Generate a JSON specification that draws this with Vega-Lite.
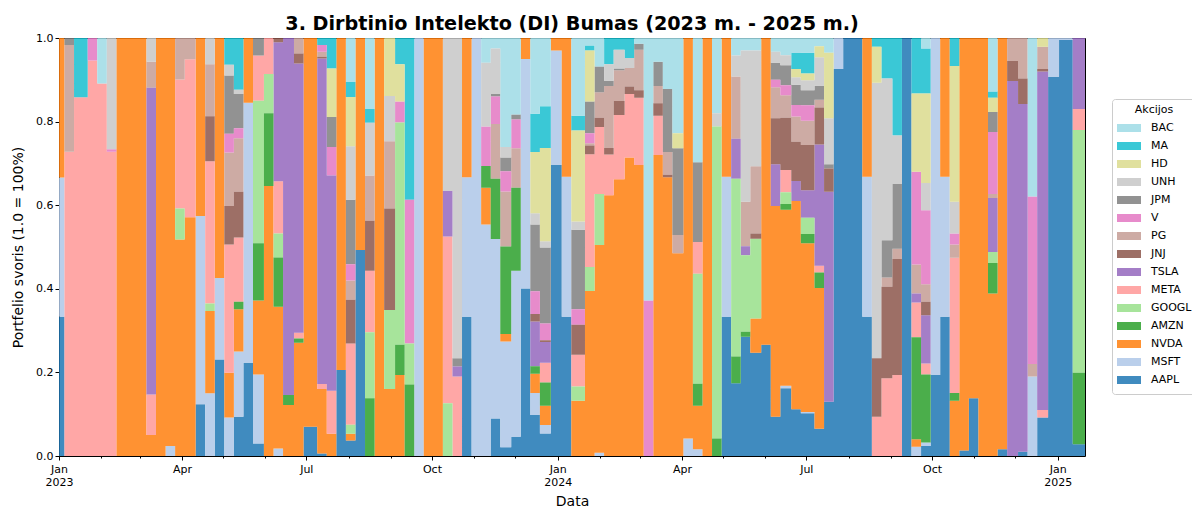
{"$schema":"https://vega.github.io/schema/vega-lite/v6.json","autosize":{"type":"none"},"padding":{"left":59,"top":38,"right":107,"bottom":51},"width":1026,"height":418,"background":"white","title":{"text":"3. Dirbtinio Intelekto (DI) Bumas (2023 m. - 2025 m.)","font":"DejaVu Sans","fontSize":19.2,"fontWeight":"bold","color":"black","anchor":"middle","offset":-2},"config":{"font":"DejaVu Sans","view":{"stroke":"black","strokeWidth":1}},"data":{"format":{"parse":{"d":"date"}},"values":[
{"d":"2023-01-01","AAPL":0.333,"MSFT":0.333,"NVDA":0.334},
{"d":"2023-01-05","META":0.728,"PG":0.255,"JPM":0.017},
{"d":"2023-01-12","META":0.858,"MA":0.142},
{"d":"2023-01-22","META":0.946,"V":0.054},
{"d":"2023-01-29","META":0.891,"BAC":0.109},
{"d":"2023-02-05","META":0.728,"V":0.006,"UNH":0.266},
{"d":"2023-02-12","NVDA":1},
{"d":"2023-02-20","NVDA":1},
{"d":"2023-02-27","NVDA":1},
{"d":"2023-03-06","NVDA":0.05,"META":0.097,"TSLA":0.734,"PG":0.062,"UNH":0.057},
{"d":"2023-03-13","NVDA":1},
{"d":"2023-03-20","MSFT":0.024,"NVDA":0.976},
{"d":"2023-03-27","NVDA":0.518,"GOOGL":0.074,"META":0.309,"PG":0.099},
{"d":"2023-04-03","NVDA":0.571,"META":0.378,"PG":0.051},
{"d":"2023-04-11","AAPL":0.124,"MSFT":0.45,"NVDA":0.426},
{"d":"2023-04-18","MSFT":0.15,"NVDA":0.197,"GOOGL":0.018,"META":0.34,"JNJ":0.108,"PG":0.124,"UNH":0.063},
{"d":"2023-04-25","AAPL":0.231,"MSFT":0.195,"NVDA":0.574},
{"d":"2023-05-02","MSFT":0.092,"NVDA":0.107,"META":0.307,"JNJ":0.092,"PG":0.128,"V":0.045,"JPM":0.139,"UNH":0.026,"MA":0.064},
{"d":"2023-05-09","AAPL":0.094,"MSFT":0.156,"NVDA":0.101,"AMZN":0.018,"META":0.154,"JNJ":0.109,"PG":0.128,"V":0.024,"JPM":0.082,"UNH":0.01,"MA":0.124},
{"d":"2023-05-16","AAPL":0.223,"MSFT":0.622,"NVDA":0.155},
{"d":"2023-05-23","AAPL":0.03,"MSFT":0.165,"NVDA":0.177,"AMZN":0.137,"GOOGL":0.341,"META":0.108,"JPM":0.042},
{"d":"2023-05-31","NVDA":0.646,"AMZN":0.174,"GOOGL":0.094,"META":0.086},
{"d":"2023-06-07","MSFT":0.018,"NVDA":0.339,"AMZN":0.118,"GOOGL":0.057,"META":0.125,"TSLA":0.333,"JNJ":0.01},
{"d":"2023-06-14","NVDA":0.122,"AMZN":0.024,"TSLA":0.854},
{"d":"2023-06-22","NVDA":0.271,"AMZN":0.01,"META":0.014,"TSLA":0.644,"JNJ":0.024,"PG":0.037},
{"d":"2023-06-29","AAPL":0.07,"NVDA":0.93},
{"d":"2023-07-09","AAPL":0.006,"NVDA":0.154,"META":0.012,"TSLA":0.779,"JNJ":0.004,"PG":0.012,"V":0.016,"MA":0.017},
{"d":"2023-07-16","NVDA":0.053,"META":0.103,"TSLA":0.515,"V":0.068,"JPM":0.072,"HD":0.116,"MA":0.073},
{"d":"2023-07-23","AAPL":0.206,"NVDA":0.794},
{"d":"2023-07-30","AAPL":0.037,"NVDA":0.016,"GOOGL":0.022,"META":0.194,"JNJ":0.105,"PG":0.046,"V":0.039,"JPM":0.154,"UNH":0.128,"HD":0.118,"MA":0.036,"BAC":0.105},
{"d":"2023-08-06","AAPL":0.493,"NVDA":0.507},
{"d":"2023-08-13","AMZN":0.138,"GOOGL":0.158,"META":0.147,"JNJ":0.12,"PG":0.108,"UNH":0.126,"MA":0.033,"BAC":0.17},
{"d":"2023-08-20","NVDA":1},
{"d":"2023-08-27","NVDA":0.16,"GOOGL":0.189,"JNJ":0.243,"PG":0.161,"UNH":0.108,"HD":0.139},
{"d":"2023-09-04","NVDA":0.194,"AMZN":0.072,"GOOGL":0.532,"V":0.05,"HD":0.089,"MA":0.063},
{"d":"2023-09-11","AMZN":0.171,"GOOGL":0.098,"V":0.344,"MA":0.387},
{"d":"2023-09-18","MSFT":1},
{"d":"2023-09-25","NVDA":1},
{"d":"2023-10-02","NVDA":1},
{"d":"2023-10-09","GOOGL":0.126,"META":0.399,"TSLA":0.109,"UNH":0.366},
{"d":"2023-10-16","META":0.19,"TSLA":0.024,"JPM":0.02,"UNH":0.766},
{"d":"2023-10-23","AAPL":0.333,"MSFT":0.334,"NVDA":0.333},
{"d":"2023-10-30","MSFT":1},
{"d":"2023-11-06","MSFT":0.554,"NVDA":0.088,"AMZN":0.052,"V":0.094,"UNH":0.153,"BAC":0.059},
{"d":"2023-11-13","AAPL":0.09,"MSFT":0.429,"AMZN":0.144,"PG":0.131,"V":0.066,"JPM":0.006,"UNH":0.109,"BAC":0.025},
{"d":"2023-11-20","AAPL":0.021,"MSFT":0.253,"NVDA":0.018,"AMZN":0.209,"PG":0.132,"V":0.048,"JPM":0.033,"UNH":0.025,"BAC":0.261},
{"d":"2023-11-28","AAPL":0.046,"MSFT":0.397,"AMZN":0.199,"PG":0.094,"V":0.069,"JPM":0.012,"BAC":0.183},
{"d":"2023-12-05","AAPL":0.401,"MSFT":0.549,"NVDA":0.05},
{"d":"2023-12-12","AAPL":0.098,"MSFT":0.053,"NVDA":0.046,"AMZN":0.018,"TSLA":0.107,"JNJ":0.018,"V":0.054,"JPM":0.16,"UNH":0.027,"HD":0.146,"MA":0.092,"BAC":0.181},
{"d":"2023-12-19","AAPL":0.054,"MSFT":0.02,"NVDA":0.046,"AMZN":0.056,"META":0.047,"TSLA":0.05,"JNJ":0.004,"V":0.04,"JPM":0.182,"UNH":0.015,"HD":0.223,"MA":0.1,"BAC":0.163},
{"d":"2023-12-27","AAPL":0.696,"MSFT":0.274,"NVDA":0.03},
{"d":"2024-01-04","AAPL":0.333,"MSFT":0.335,"NVDA":0.332},
{"d":"2024-01-11","NVDA":0.132,"GOOGL":0.034,"META":0.076,"JNJ":0.072,"V":0.037,"JPM":0.19,"UNH":0.02,"HD":0.218,"MA":0.035,"BAC":0.186},
{"d":"2024-01-21","NVDA":0.395,"GOOGL":0.057,"META":0.27,"JNJ":0.021,"PG":0.005,"V":0.024,"JPM":0.076,"HD":0.122,"MA":0.012,"BAC":0.018},
{"d":"2024-01-28","MSFT":0.008,"NVDA":0.497,"GOOGL":0.122,"META":0.16,"JNJ":0.022,"PG":0.061,"JPM":0.062,"BAC":0.068},
{"d":"2024-02-04","NVDA":0.624,"META":0.097,"JNJ":0.016,"PG":0.148,"JPM":0.013,"UNH":0.039,"MA":0.063},
{"d":"2024-02-11","NVDA":0.662,"META":0.154,"JNJ":0.033,"PG":0.074,"JPM":0.004,"UNH":0.045,"MA":0.028},
{"d":"2024-02-19","NVDA":0.714,"META":0.152,"JNJ":0.018,"PG":0.044,"UNH":0.024,"MA":0.048},
{"d":"2024-02-26","NVDA":0.696,"META":0.161,"JNJ":0.018,"PG":0.097,"JPM":0.014,"BAC":0.014},
{"d":"2024-03-04","V":0.372,"BAC":0.628},
{"d":"2024-03-11","NVDA":0.72,"META":0.094,"JNJ":0.03,"PG":0.041,"JPM":0.058,"BAC":0.057},
{"d":"2024-03-18","NVDA":0.667,"JNJ":0.006,"PG":0.054,"JPM":0.151,"BAC":0.122},
{"d":"2024-03-25","NVDA":0.485,"PG":0.044,"JPM":0.207,"HD":0.036,"BAC":0.228},
{"d":"2024-04-02","MSFT":0.042,"NVDA":0.958},
{"d":"2024-04-09","MSFT":0.016,"NVDA":0.104,"AMZN":0.053,"GOOGL":0.263,"META":0.076,"JPM":0.191,"BAC":0.297},
{"d":"2024-04-16","NVDA":1},
{"d":"2024-04-23","AMZN":0.042,"GOOGL":0.746,"UNH":0.032,"BAC":0.18},
{"d":"2024-04-30","AAPL":0.333,"MSFT":0.335,"NVDA":0.332},
{"d":"2024-05-07","AAPL":0.174,"AMZN":0.064,"GOOGL":0.425,"TSLA":0.096,"PG":0.149,"UNH":0.05,"BAC":0.042},
{"d":"2024-05-14","AAPL":0.285,"AMZN":0.012,"GOOGL":0.183,"TSLA":0.022,"PG":0.106,"UNH":0.362,"BAC":0.03},
{"d":"2024-05-21","AAPL":0.247,"NVDA":0.082,"GOOGL":0.191,"JNJ":0.012,"PG":0.161,"UNH":0.277,"BAC":0.03},
{"d":"2024-05-29","AAPL":0.266,"NVDA":0.734},
{"d":"2024-06-05","AAPL":0.094,"NVDA":0.504,"TSLA":0.1,"JNJ":0.11,"PG":0.074,"V":0.018,"JPM":0.041,"UNH":0.026,"BAC":0.033},
{"d":"2024-06-12","AAPL":0.162,"MSFT":0.006,"NVDA":0.421,"AMZN":0.014,"GOOGL":0.028,"META":0.053,"JNJ":0.125,"PG":0.054,"V":0.024,"JPM":0.048,"UNH":0.024,"BAC":0.041},
{"d":"2024-06-20","AAPL":0.112,"NVDA":0.498,"TSLA":0.048,"JNJ":0.094,"PG":0.06,"V":0.028,"JPM":0.048,"UNH":0.018,"HD":0.02,"MA":0.038,"BAC":0.036},
{"d":"2024-06-27","AAPL":0.102,"MSFT":0.003,"NVDA":0.404,"AMZN":0.022,"GOOGL":0.039,"TSLA":0.066,"JNJ":0.108,"PG":0.058,"V":0.037,"JPM":0.036,"UNH":0.024,"HD":0.016,"MA":0.05,"BAC":0.035},
{"d":"2024-07-07","AAPL":0.065,"NVDA":0.337,"AMZN":0.037,"META":0.016,"TSLA":0.29,"JNJ":0.089,"PG":0.018,"JPM":0.034,"UNH":0.068,"HD":0.026,"BAC":0.02},
{"d":"2024-07-14","AAPL":0.13,"TSLA":0.502,"JNJ":0.056,"JPM":0.01,"UNH":0.11,"HD":0.157,"BAC":0.035},
{"d":"2024-07-21","AAPL":0.926,"MSFT":0.074},
{"d":"2024-07-28","AAPL":1},
{"d":"2024-08-04","AAPL":1},
{"d":"2024-08-11","AAPL":0.333,"MSFT":0.335,"NVDA":0.332},
{"d":"2024-08-18","META":0.094,"JNJ":0.14,"UNH":0.659,"HD":0.086,"MA":0.021},
{"d":"2024-08-25","META":0.186,"JNJ":0.219,"PG":0.022,"JPM":0.089,"UNH":0.387,"MA":0.097},
{"d":"2024-09-02","META":0.194,"JNJ":0.277,"PG":0.025,"JPM":0.155,"UNH":0.116,"MA":0.233},
{"d":"2024-09-09","AAPL":1},
{"d":"2024-09-16","MSFT":0.022,"NVDA":0.018,"AMZN":0.244,"META":0.083,"TSLA":0.022,"PG":0.069,"V":0.222,"HD":0.187,"MA":0.133},
{"d":"2024-09-23","AAPL":0.024,"MSFT":0.008,"AMZN":0.163,"META":0.026,"TSLA":0.116,"JNJ":0.032,"PG":0.042,"V":0.177,"UNH":0.065,"HD":0.214,"MA":0.108,"BAC":0.025},
{"d":"2024-09-30","AAPL":0.194,"MSFT":0.806},
{"d":"2024-10-07","AAPL":0.333,"MSFT":0.335,"NVDA":0.332},
{"d":"2024-10-14","NVDA":0.132,"AMZN":0.019,"META":0.323,"PG":0.032,"V":0.026,"UNH":0.076,"HD":0.325,"MA":0.067},
{"d":"2024-10-21","AAPL":0.013,"NVDA":0.987},
{"d":"2024-10-28","AAPL":0.138,"NVDA":0.862},
{"d":"2024-11-04","NVDA":1},
{"d":"2024-11-11","NVDA":0.389,"AMZN":0.073,"GOOGL":0.026,"TSLA":0.129,"PG":0.01,"V":0.148,"JPM":0.048,"HD":0.034,"MA":0.015,"BAC":0.128},
{"d":"2024-11-18","AAPL":0.016,"NVDA":0.984},
{"d":"2024-11-25","TSLA":0.897,"JNJ":0.048,"PG":0.055},
{"d":"2024-12-03","AAPL":0.01,"TSLA":0.832,"JNJ":0.061,"PG":0.097},
{"d":"2024-12-10","MSFT":0.19,"PG":0.03,"V":0.401,"BAC":0.379},
{"d":"2024-12-17","AAPL":0.092,"META":0.018,"TSLA":0.81,"JNJ":0.006,"PG":0.053,"HD":0.021},
{"d":"2024-12-25","AAPL":0.907,"MSFT":0.093},
{"d":"2025-01-02","AAPL":0.995,"MSFT":0.005},
{"d":"2025-01-12","AAPL":0.028,"AMZN":0.171,"GOOGL":0.581,"META":0.05,"TSLA":0.17},
{"d":"2025-01-21","AAPL":0.028,"AMZN":0.171,"GOOGL":0.581,"META":0.05,"TSLA":0.17}
]},
"transform":[
{"fold":["AAPL","MSFT","NVDA","AMZN","GOOGL","META","TSLA","JNJ","PG","V","JPM","UNH","HD","MA","BAC"],"as":["s","v"]},
{"filter":"datum.v>0"},
{"impute":"v","key":"d","groupby":["s"],"value":0},
{"lookup":"s","from":{"key":"s","fields":["o"],"data":{"values":[{"s":"AAPL","o":1},{"s":"MSFT","o":2},{"s":"NVDA","o":3},{"s":"AMZN","o":4},{"s":"GOOGL","o":5},{"s":"META","o":6},{"s":"TSLA","o":7},{"s":"JNJ","o":8},{"s":"PG","o":9},{"s":"V","o":10},{"s":"JPM","o":11},{"s":"UNH","o":12},{"s":"HD","o":13},{"s":"MA","o":14},{"s":"BAC","o":15}]}}}
],
"mark":{"type":"area","interpolate":"step-after","opacity":0.85,"clip":true},
"encoding":{
"x":{"field":"d","type":"temporal","scale":{"type":"utc","domain":[{"year":2023,"month":1,"date":1,"utc":true},{"year":2025,"month":1,"date":21,"utc":true}]},"title":"Data","axis":{"grid":false,"domain":false,"tickCount":{"interval":"month","step":1},"tickColor":"black","tickSize":{"expr":"utcmonth(datum.value)%3==0?4:2"},"labelExpr":"utcmonth(datum.value)==0?[utcFormat(datum.value,'%b'),utcFormat(datum.value,'%Y')]:(utcmonth(datum.value)%3==0?utcFormat(datum.value,'%b'):'')","labelColor":"black","labelFontSize":11,"labelOverlap":false,"labelFlush":false,"labelPadding":3,"titleFontSize":14,"titleFontWeight":"normal","titleColor":"black","titlePadding":7}},
"y":{"field":"v","type":"quantitative","stack":"zero","scale":{"domain":[0,1],"nice":false},"title":"Portfelio svoris (1.0 = 100%)","axis":{"grid":false,"domain":false,"values":[0,0.2,0.4,0.6,0.8,1],"format":".1f","tickColor":"black","tickSize":4,"labelColor":"black","labelFontSize":11,"titleFontSize":14,"titleFontWeight":"normal","titleColor":"black","titlePadding":10}},
"order":{"field":"o","type":"quantitative"},
"color":{"field":"s","type":"nominal","scale":{"domain":["BAC","MA","HD","UNH","JPM","V","PG","JNJ","TSLA","META","GOOGL","AMZN","NVDA","MSFT","AAPL"],"range":["#9edae5","#17becf","#dbdb8d","#c7c7c7","#7f7f7f","#e377c2","#c49c94","#8c564b","#9467bd","#ff9896","#98df8a","#2ca02c","#ff7f0e","#aec7e8","#1f77b4"]},"legend":{"title":"Akcijos","orient":"none","legendX":1053,"legendY":61,"fillColor":"white","strokeColor":"#cccccc","cornerRadius":3,"padding":5,"titleFontSize":11,"titleFontWeight":"normal","titleColor":"black","titleAnchor":"middle","titlePadding":4,"labelFontSize":11,"labelColor":"black","labelOffset":10,"symbolType":"M-1,-0.33H1V0.33H-1Z","symbolSize":576,"symbolStrokeWidth":0,"clipHeight":18,"rowPadding":0,"values":["BAC","MA","HD","UNH","JPM","V","PG","JNJ","TSLA","META","GOOGL","AMZN","NVDA","MSFT","AAPL"]}}
}}
